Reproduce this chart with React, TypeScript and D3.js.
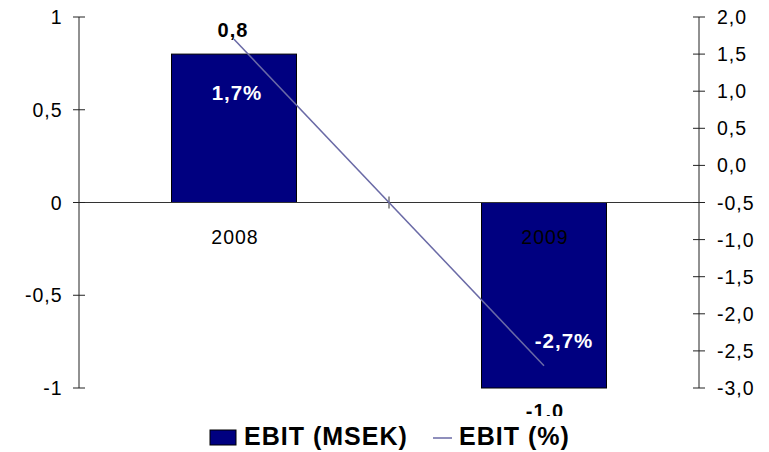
import React, { useRef, useEffect } from 'react';
import * as d3 from 'd3';

const years = ['2008', '2009'];
const ebitMsek = [0.8, -1.0];
const ebitPct = [1.7, -2.7];
const msekLabels = ['0,8', '-1,0'];
const pctLabels = ['1,7%', '-2,7%'];
const leftTicks = [1, 0.5, 0, -0.5, -1];
const rightTicks = [2, 1.5, 1, 0.5, 0, -0.5, -1, -1.5, -2, -2.5, -3];

const fmtLeft = (v: number) => (v === Math.round(v) ? String(v) : String(v).replace('.', ','));
const fmtRight = (v: number) => v.toFixed(1).replace('.', ',');

const App: React.FC = () => {
  const svgRef = useRef<SVGSVGElement>(null);

  useEffect(() => {
    if (!svgRef.current) return;
    const svg = d3.select(svgRef.current);
    svg.selectAll('*').remove();

    const font = '"Liberation Sans", Arial, sans-serif';
    const left = 79;
    const right = 699;
    const top = 17;
    const bottom = 388;
    const barW = 125;
    const ls = '1px';

    const x = d3.scalePoint<string>().domain(years).range([left, right]).padding(0.5);
    const yL = d3.scaleLinear().domain([-1, 1]).range([bottom, top]);
    const yR = d3.scaleLinear().domain([-3, 2]).range([bottom, top]);

    svg.append('defs').append('clipPath').attr('id', 'lblclip')
      .append('rect').attr('x', 0).attr('y', 0).attr('width', 769).attr('height', 416);

    // bars
    svg.append('g').selectAll('rect')
      .data(years)
      .join('rect')
      .attr('x', d => x(d)! - barW / 2)
      .attr('width', barW)
      .attr('y', (d, i) => Math.min(yL(ebitMsek[i]), yL(0)))
      .attr('height', (d, i) => Math.abs(yL(ebitMsek[i]) - yL(0)))
      .attr('fill', '#000080')
      .attr('stroke', '#000')
      .attr('stroke-width', 1);

    // zero line
    svg.append('line')
      .attr('x1', left).attr('x2', right)
      .attr('y1', yL(0)).attr('y2', yL(0))
      .attr('stroke', '#333').attr('stroke-width', 1);
    // category divider tick
    svg.append('line')
      .attr('x1', (left + right) / 2).attr('x2', (left + right) / 2)
      .attr('y1', yL(0) - 6).attr('y2', yL(0) + 6)
      .attr('stroke', '#333');

    // left axis
    const gl = svg.append('g');
    gl.append('line').attr('x1', left).attr('x2', left).attr('y1', top).attr('y2', bottom).attr('stroke', '#222');
    leftTicks.forEach(t => {
      gl.append('line').attr('x1', left - 6).attr('x2', left + 6)
        .attr('y1', yL(t)).attr('y2', yL(t)).attr('stroke', '#222');
      gl.append('text').attr('x', 62.5).attr('y', yL(t)).attr('dy', '0.36em')
        .attr('text-anchor', 'end').style('font-family', font).style('font-size', '19.5px')
        .style('letter-spacing', ls)
        .text(fmtLeft(t));
    });

    // right axis
    const gr = svg.append('g');
    gr.append('line').attr('x1', right).attr('x2', right).attr('y1', top).attr('y2', bottom).attr('stroke', '#222');
    rightTicks.forEach(t => {
      gr.append('line').attr('x1', right - 6).attr('x2', right + 6)
        .attr('y1', yR(t)).attr('y2', yR(t)).attr('stroke', '#222');
      gr.append('text').attr('x', 717).attr('y', yR(t)).attr('dy', '0.36em')
        .attr('text-anchor', 'start').style('font-family', font).style('font-size', '19.5px')
        .style('letter-spacing', ls)
        .text(fmtRight(t));
    });

    // line series
    const line = d3.line<number>()
      .x((d, i) => x(years[i])!)
      .y(d => yR(d));
    svg.append('path')
      .datum(ebitPct)
      .attr('d', line)
      .attr('fill', 'none')
      .attr('stroke', '#6a6aa6')
      .attr('stroke-width', 1.5);

    // category labels
    svg.append('g').selectAll('text')
      .data(years)
      .join('text')
      .attr('x', d => x(d)! + 1)
      .attr('y', 244)
      .attr('text-anchor', 'middle')
      .style('font-family', font).style('font-size', '19.5px').style('fill', '#000')
      .style('letter-spacing', ls)
      .text(d => d);

    // bar value labels
    svg.append('g').attr('clip-path', 'url(#lblclip)').selectAll('text')
      .data(msekLabels)
      .join('text')
      .attr('x', (d, i) => x(years[i])! - (i === 0 ? 1 : -1))
      .attr('y', (d, i) => (ebitMsek[i] >= 0 ? yL(ebitMsek[i]) - 17 : yL(ebitMsek[i]) + 30))
      .attr('text-anchor', 'middle')
      .style('font-family', font).style('font-size', '20px').style('font-weight', 'bold')
      .style('letter-spacing', ls)
      .text(d => d);

    // pct labels
    svg.append('g').selectAll('text')
      .data(pctLabels)
      .join('text')
      .attr('x', (d, i) => x(years[i])! + (i === 0 ? 3 : 20))
      .attr('y', (d, i) => yR(ebitPct[i]) + (i === 0 ? 61 : -18))
      .attr('text-anchor', 'middle')
      .style('font-family', font).style('font-size', '20.5px').style('font-weight', 'bold')
      .style('letter-spacing', ls)
      .style('fill', '#fff')
      .text(d => d);

    // legend
    const lg = svg.append('g');
    lg.append('rect').attr('x', 210).attr('y', 430).attr('width', 26).attr('height', 15)
      .attr('fill', '#000080').attr('stroke', '#000');
    lg.append('text').attr('x', 244).attr('y', 445)
      .style('font-family', font).style('font-size', '25px').style('font-weight', 'bold')
      .style('letter-spacing', '1px')
      .text('EBIT (MSEK)');
    lg.append('line').attr('x1', 433).attr('x2', 452).attr('y1', 438).attr('y2', 438)
      .attr('stroke', '#6a6aa6').attr('stroke-width', 1.5);
    lg.append('text').attr('x', 459).attr('y', 445)
      .style('font-family', font).style('font-size', '25px').style('font-weight', 'bold')
      .style('letter-spacing', '1px')
      .text('EBIT (%)');
  }, []);

  return (
    <svg
      ref={svgRef}
      width={769}
      height={452}
      style={{ position: 'absolute', left: 0, top: 0, background: '#fff' }}
    />
  );
};

export default App;
